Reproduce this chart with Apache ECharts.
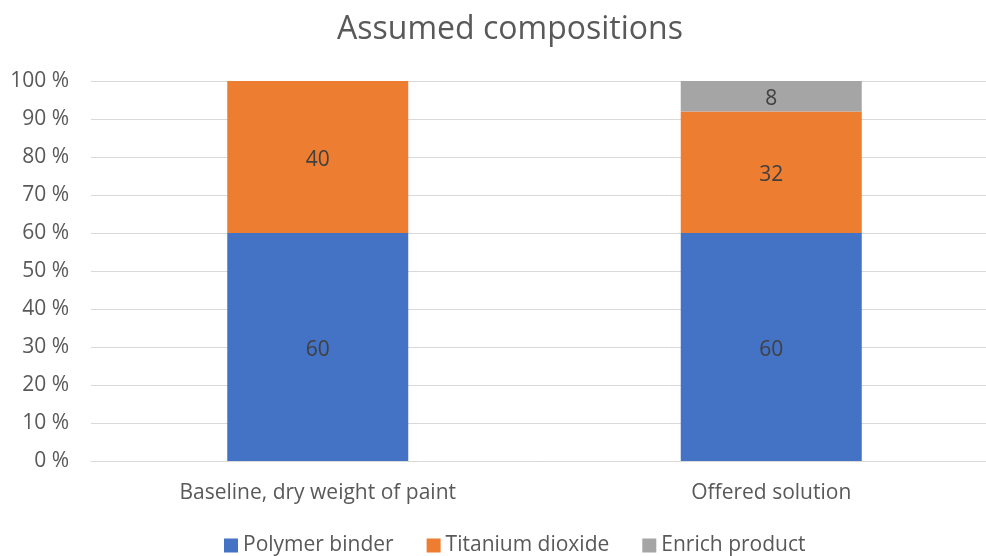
<!DOCTYPE html>
<html>
<head>
<meta charset="utf-8">
<script src="https://cdn.jsdelivr.net/npm/echarts@6/dist/echarts.min.js"></script>
<style>
  html, body { margin: 0; padding: 0; background: #fff; }
  #chart { width: 986px; height: 556px; }
</style>
</head>
<body>
<div id="chart"></div>
<script>
// Composition data (percent of dry weight)
const categories = ['Baseline, dry weight of paint', 'Offered solution'];
const polymerBinder = [60, 60];
const titaniumDioxide = [40, 32];
const enrichProduct = [null, 8];
const yTicks = [0, 10, 20, 30, 40, 50, 60, 70, 80, 90, 100];

const FONT = 'Open Sans';
const chart = echarts.init(document.getElementById('chart'));

function barSeries(name, data, color) {
  return {
    name: name,
    type: 'bar',
    stack: 'total',
    data: data,
    barWidth: 181,
    itemStyle: { color: color },
    label: {
      show: true,
      position: 'inside',
      offset: [0, 3],
      color: '#404040',
      fontSize: 21,
      fontFamily: FONT,
      formatter: p => (p.value == null ? '' : String(p.value))
    },
    emphasis: { disabled: true }
  };
}

chart.setOption({
  animation: false,
  textStyle: { fontFamily: FONT },
  title: {
    text: 'Assumed compositions',
    left: 505,
    textAlign: 'center',
    top: 9,
    textStyle: { color: '#595959', fontSize: 32, fontWeight: 'normal', fontFamily: FONT }
  },
  legend: {
    data: ['Polymer binder', 'Titanium dioxide', 'Enrich product'],
    top: 530,
    left: 219,
    itemWidth: 14,
    itemHeight: 14,
    itemGap: 33,
    icon: 'rect',
    textStyle: { color: '#595959', fontSize: 21, fontFamily: FONT }
  },
  grid: { left: 91, width: 907, top: 81, bottom: 95, outerBoundsMode: 'none', containLabel: false },
  xAxis: {
    type: 'category',
    data: categories,
    axisLine: { lineStyle: { color: '#d9d9d9', width: 1 } },
    axisTick: { show: false },
    axisLabel: { color: '#595959', fontSize: 21, fontFamily: FONT, margin: 22 }
  },
  yAxis: {
    type: 'value',
    min: yTicks[0],
    max: yTicks[yTicks.length - 1],
    interval: 10,
    axisLine: { show: false },
    axisTick: { show: false },
    splitLine: { lineStyle: { color: '#d9d9d9', width: 1 } },
    axisLabel: { color: '#595959', fontSize: 21, fontFamily: FONT, margin: 22, formatter: v => v + ' %' }
  },
  series: [
    barSeries('Polymer binder', polymerBinder, '#4472C4'),
    barSeries('Titanium dioxide', titaniumDioxide, '#ED7D31'),
    barSeries('Enrich product', enrichProduct, '#A5A5A5')
  ]
});
</script>
</body>
</html>
